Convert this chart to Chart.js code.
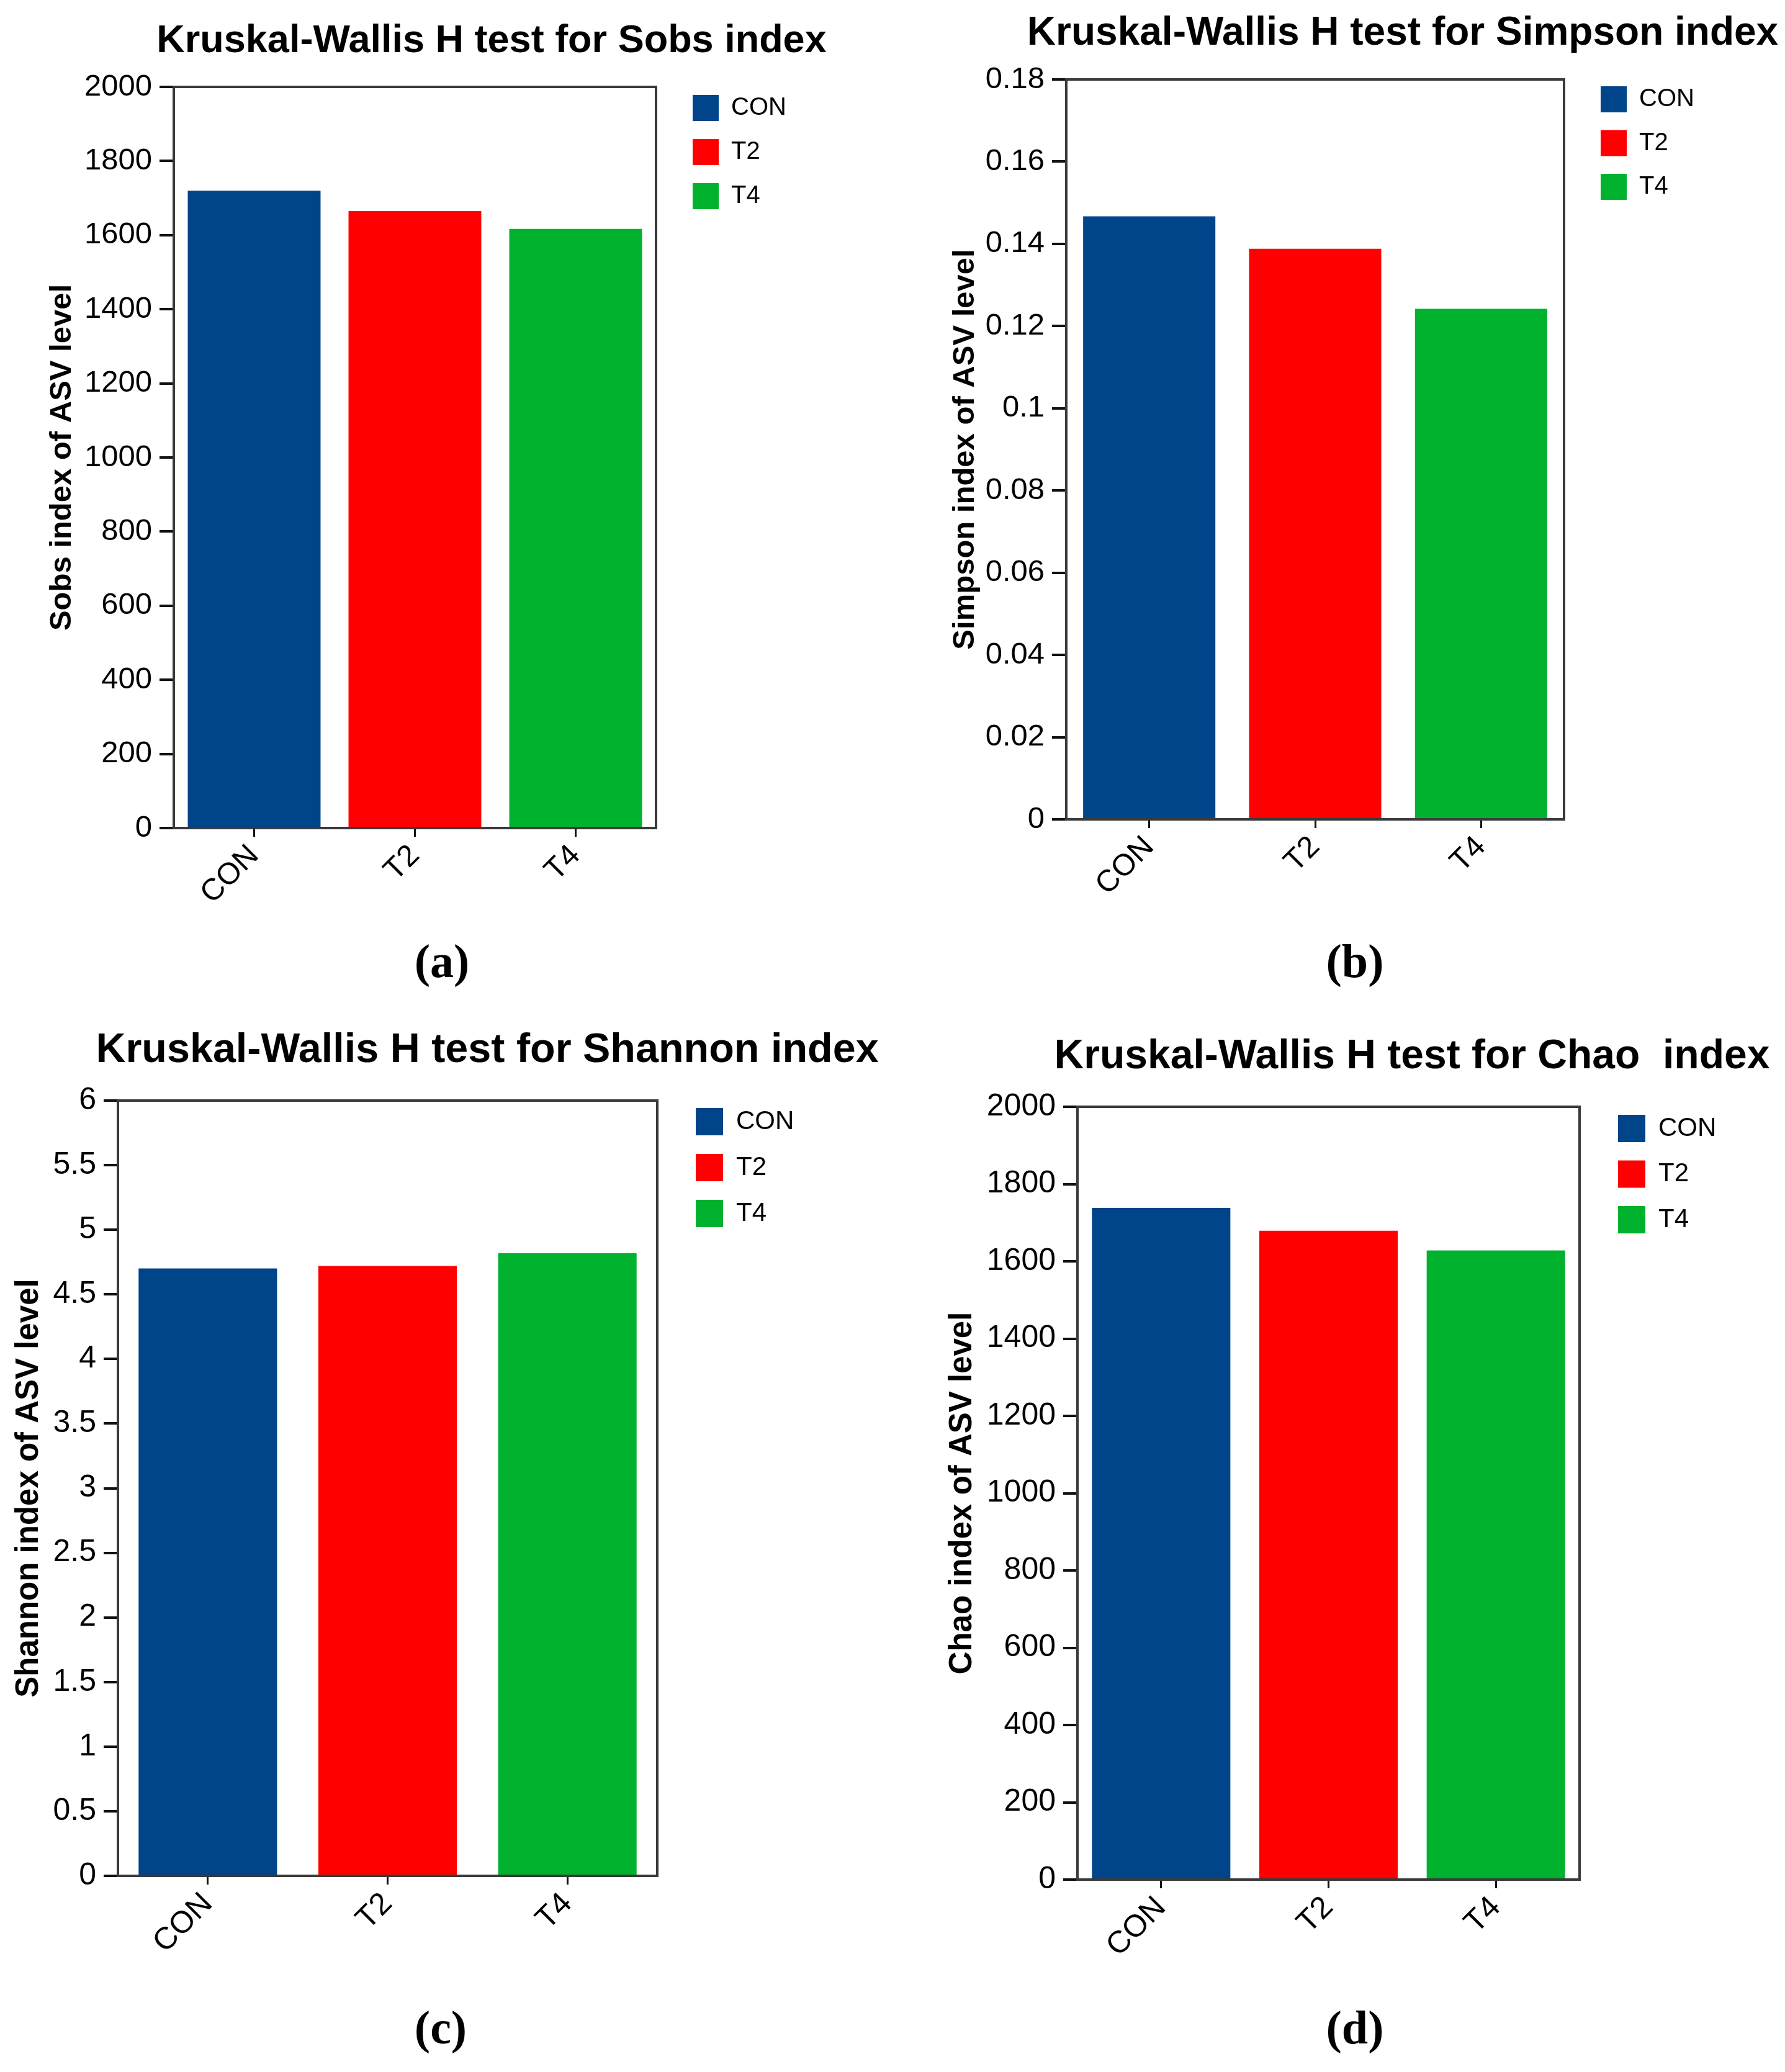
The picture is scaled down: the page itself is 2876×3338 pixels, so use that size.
<!DOCTYPE html>
<html>
<head>
<meta charset="utf-8">
<script src="https://cdn.jsdelivr.net/npm/chart.js@4.4.1/dist/chart.umd.min.js"></script>
<style>
    body { margin: 0; width: 2876px; height: 3338px; overflow: hidden; background: #fff; position: relative; }
    canvas { position: absolute; }
    .tag { position: absolute; font: bold 76px "Liberation Serif", serif; color: #000; transform: translate(-50%, -50%); }
</style>
</head>
<body>
<canvas id="sobsChart"></canvas>
<canvas id="simpsonChart"></canvas>
<canvas id="shannonChart"></canvas>
<canvas id="chaoChart"></canvas>
<div class="tag" style="left:712px;top:1548px">(a)</div>
<div class="tag" style="left:2183px;top:1548px">(b)</div>
<div class="tag" style="left:710px;top:3266px">(c)</div>
<div class="tag" style="left:2183px;top:3266px">(d)</div>
<script>
// groups and colours
const groups = ["CON", "T2", "T4"];
const groupColors = ["#00448A", "#FF0000", "#00B22E"];

// values
const sobsValues = [1720, 1665, 1617];
const simpsonValues = [0.1467, 0.1388, 0.1242];
const shannonValues = [4.70, 4.72, 4.82];
const chaoValues = [1738, 1679, 1628];

// y axis ranges: [min, max, step]
const sobsRange = [0, 2000, 200];
const simpsonRange = [0, 0.18, 0.02];
const shannonRange = [0, 6, 0.5];
const chaoRange = [0, 2000, 200];

const FONT = '"Liberation Sans", Arial, sans-serif';

// moves the legend to a fixed spot next to the plot box
const legendSpot = {
    id: "legendSpot",
    afterLayout(chart, args, opts) {
        const lg = chart.legend;
        if (!lg) return;
        const pad = lg.options.labels.padding;
        const dx = opts.x - pad - lg.left;
        const dy = opts.y - pad - lg.top;
        lg.left += dx; lg.right += dx;
        lg.top += dy; lg.bottom += dy;
    },
};

// width chart.js gives a right legend (padding + box + gap + widest text + 10)
function legendWidth(p) {
    const ctx = document.createElement("canvas").getContext("2d");
    ctx.font = "normal " + p.legendFont + "px " + FONT;
    const widest = Math.max(...groups.map((g) => ctx.measureText(g).width));
    return p.legendPad + p.legendBox + p.legendFont / 2 + widest + 10;
}

function makePanel(p) {
    const canvas = document.getElementById(p.id);
    canvas.width = p.cw;
    canvas.height = p.ch;
    canvas.style.left = p.cx + "px";
    canvas.style.top = p.cy + "px";
    canvas.style.width = p.cw + "px";
    canvas.style.height = p.ch + "px";

    const titleLine = p.titleSize * 1.2;
    const titlePadTop = p.titleMid - p.cy - titleLine / 2;
    const x2Height = p.box[2] - p.cy - titlePadTop - titleLine;
    const yTitlePad = p.yTitleX - p.cx - (p.yTitleSize * 1.2) / 2;
    const legW = legendWidth(p);

    new Chart(canvas.getContext("2d"), {
        type: "bar",
        data: {
            labels: groups,
            datasets: [
                {
                    label: p.yTitle,
                    data: p.values,
                    backgroundColor: groupColors,
                    borderWidth: 0,
                    categoryPercentage: 1,
                    barPercentage: p.barPct,
                },
            ],
        },
        plugins: [legendSpot],
        options: {
            responsive: false,
            animation: false,
            layout: { padding: 0 },
            plugins: {
                title: {
                    display: true,
                    text: p.title,
                    color: "#000",
                    font: { family: FONT, size: p.titleSize, weight: "bold", lineHeight: 1.2 },
                    padding: { top: titlePadTop, bottom: 0 },
                },
                legend: {
                    position: "right",
                    align: "start",
                    onClick: () => {},
                    labels: {
                        boxWidth: p.legendBox,
                        boxHeight: p.legendBox,
                        padding: p.legendPad,
                        color: "#000",
                        font: { family: FONT, size: p.legendFont },
                        generateLabels: (chart) =>
                            chart.data.labels.map((text, i) => ({
                                text: text,
                                fillStyle: groupColors[i],
                                strokeStyle: groupColors[i],
                                lineWidth: 0,
                                hidden: false,
                                index: i,
                                fontColor: "#000",
                            })),
                    },
                },
                legendSpot: { x: p.legendX - p.cx, y: p.legendY - p.cy },
                tooltip: { enabled: false },
            },
            scales: {
                x: {
                    type: "category",
                    offset: true,
                    grid: { display: true, drawOnChartArea: false, drawTicks: true, tickLength: 14, lineWidth: 3, color: "#111", offset: false },
                    border: { display: true, color: "#3a3a3a", width: 4 },
                    ticks: { color: "#000", font: { family: FONT, size: p.tickSize }, minRotation: 45, maxRotation: 45, padding: 2 },
                    afterFit: (s) => { s.height = p.cy + p.ch - p.box[3]; },
                },
                y: {
                    min: p.range[0],
                    max: p.range[1],
                    grid: { display: true, drawOnChartArea: false, drawTicks: true, tickLength: 23, lineWidth: 4, color: "#111" },
                    border: { display: true, color: "#3a3a3a", width: 4 },
                    ticks: {
                        stepSize: p.range[2],
                        color: "#000",
                        font: { family: FONT, size: p.tickSize },
                        padding: 12,
                        callback: (v) => String(Number(v.toFixed(4))),
                    },
                    title: {
                        display: true,
                        text: p.yTitle,
                        color: "#000",
                        font: { family: FONT, size: p.yTitleSize, weight: "bold", lineHeight: 1.2 },
                        padding: { top: yTitlePad, bottom: 0 },
                    },
                    afterFit: (s) => { s.width = p.box[0] - p.cx; },
                },
                x2: {
                    type: "category",
                    position: "top",
                    grid: { display: false },
                    ticks: { display: false },
                    border: { display: true, color: "#3a3a3a", width: 4 },
                    afterFit: (s) => { s.height = x2Height; },
                },
                y2: {
                    type: "linear",
                    position: "right",
                    grid: { display: false },
                    ticks: { display: false },
                    border: { display: true, color: "#3a3a3a", width: 4 },
                    afterFit: (s) => { s.width = p.cx + p.cw - legW - p.box[1]; },
                },
            },
        },
    });
}

document.addEventListener("DOMContentLoaded", () => {
    // box: [left, right, top, bottom] of the plot area on the page
    makePanel({
        id: "sobsChart", cx: 0, cy: 0, cw: 1584, ch: 1480,
        box: [280, 1057, 140, 1334],
        title: "Kruskal-Wallis H test for Sobs index", titleSize: 63, titleMid: 67,
        yTitle: "Sobs index of ASV level", yTitleSize: 49, yTitleX: 100,
        tickSize: 49, values: sobsValues, range: sobsRange, barPct: 0.826,
        legendX: 1116, legendY: 153, legendBox: 42, legendFont: 40, legendPad: 29,
    });
    makePanel({
        id: "simpsonChart", cx: 1480, cy: 0, cw: 1560, ch: 1480,
        box: [1718, 2520, 128, 1320],
        title: "Kruskal-Wallis H test for Simpson index", titleSize: 64, titleMid: 54,
        yTitle: "Simpson index of ASV level", yTitleSize: 49, yTitleX: 1555,
        tickSize: 49, values: simpsonValues, range: simpsonRange, barPct: 0.797,
        legendX: 2579, legendY: 139, legendBox: 42, legendFont: 40, legendPad: 28.5,
    });
    makePanel({
        id: "shannonChart", cx: 0, cy: 1600, cw: 1570, ch: 1560,
        box: [190, 1059, 1773, 3022],
        title: "Kruskal-Wallis H test for Shannon index", titleSize: 66.5, titleMid: 1693,
        yTitle: "Shannon index of ASV level", yTitleSize: 51, yTitleX: 47,
        tickSize: 50, values: shannonValues, range: shannonRange, barPct: 0.77,
        legendX: 1121, legendY: 1785, legendBox: 44, legendFont: 42, legendPad: 30,
    });
    makePanel({
        id: "chaoChart", cx: 1500, cy: 1600, cw: 1550, ch: 1560,
        box: [1736, 2545, 1783, 3028],
        title: "Kruskal-Wallis H test for Chao  index", titleSize: 66, titleMid: 1703,
        yTitle: "Chao index of ASV level", yTitleSize: 51, yTitleX: 1551,
        tickSize: 50, values: chaoValues, range: chaoRange, barPct: 0.827,
        legendX: 2607, legendY: 1796, legendBox: 44, legendFont: 42, legendPad: 29.5,
    });
});
</script>
</body>
</html>
